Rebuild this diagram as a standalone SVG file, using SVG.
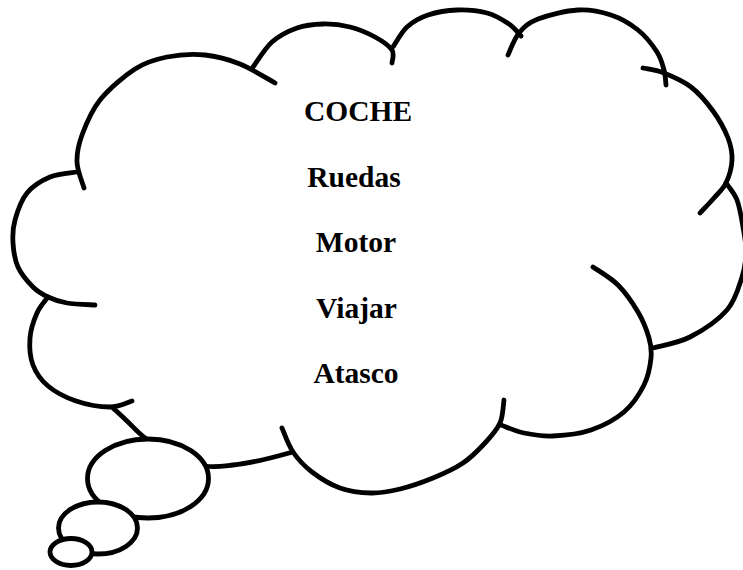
<svg xmlns="http://www.w3.org/2000/svg" width="743" height="570" viewBox="0 0 743 570">
  <style>
    .outline { fill: none; stroke: #000; stroke-width: 4.8; stroke-linecap: round; stroke-linejoin: round; }
    .bubble { fill: #fff; stroke: #000; stroke-width: 4.8; }
    .word { font-family: "Liberation Serif", "Times New Roman", serif; font-weight: bold; font-size: 29.5px; fill: #000; text-anchor: middle; }
  </style>
  <rect width="743" height="570" fill="#fff"/>

  <!-- thought cloud: one arc per lobe, each running slightly inside at its ends -->
  <g id="cloud">
    <path class="outline" d="M84,188 C82.8,183.7 77.3,170.8 77,162 C76.7,153.2 78.2,145.3 82,135 C85.8,124.7 91.2,111 100,100 C108.8,89 123.8,76.2 135,69 C146.2,61.8 155.3,59.3 167,57 C178.7,54.7 192.8,53.8 205,55 C217.2,56.2 228.3,59.3 240,64 C251.7,68.7 269.2,79.8 275,83"/>
    <path class="outline" d="M253,67 C256.2,62.8 264.7,48.5 272,42 C279.3,35.5 288.5,31 297,28 C305.5,25 314.2,24.2 323,24 C331.8,23.8 341.3,24.8 350,27 C358.7,29.2 368,33.2 375,37 C382,40.8 389.2,45.7 392,50 C394.8,54.3 392,60.8 392,63"/>
    <path class="outline" d="M393,47 C395.3,43.7 401.2,32.3 407,27 C412.8,21.7 419.7,17.8 428,15 C436.3,12.2 447.2,10.3 457,10 C466.8,9.7 478.3,10.7 487,13 C495.7,15.3 503.3,20.2 509,24 C514.7,27.8 519,34 521,36"/>
    <path class="outline" d="M508,55 C509.8,51.3 514,39 519,33 C524,27 528.2,22.8 538,19 C547.8,15.2 565.8,10.7 578,10 C590.2,9.3 601,11.7 611,15 C621,18.3 630.3,23.8 638,30 C645.7,36.2 652.7,45.3 657,52 C661.3,58.7 662.5,64.5 664,70 C665.5,75.5 665.7,82.5 666,85"/>
    <path class="outline" d="M643,68 C646.5,68.8 656,69.8 664,73 C672,76.2 682.8,80.7 691,87 C699.2,93.3 706.8,102.5 713,111 C719.2,119.5 724.8,129.8 728,138 C731.2,146.2 732.3,152.5 732,160 C731.7,167.5 729,176.7 726,183 C723,189.3 718.3,193 714,198 C709.7,203 702.3,210.5 700,213"/>
    <path class="outline" d="M726,183 C727.8,185.8 734.2,192.7 737,200 C739.8,207.3 741.5,218.3 743,227 C744.5,235.7 746.2,243.7 746,252 C745.8,260.3 745.2,267.3 742,277 C738.8,286.7 735.7,300 727,310 C718.3,320 702.3,330.7 690,337 C677.7,343.3 659.2,346.2 653,348"/>
    <path class="outline" d="M593,267 C597.2,270 610.5,277.5 618,285 C625.5,292.5 632.8,303.2 638,312 C643.2,320.8 646.8,330.3 649,338 C651.2,345.7 651.8,350.2 651,358 C650.2,365.8 648.5,376 644,385 C639.5,394 632.8,404.5 624,412 C615.2,419.5 602.8,426 591,430 C579.2,434 564.2,435.5 553,436 C541.8,436.5 532.7,434.8 524,433 C515.3,431.2 504.8,426.3 501,425"/>
    <path class="outline" d="M504,400 C503.3,403.8 503.2,415.8 500,423 C496.8,430.2 491.2,436.3 485,443 C478.8,449.7 471.7,457.2 463,463 C454.3,468.8 443.5,473.7 433,478 C422.5,482.3 410.3,486.5 400,489 C389.7,491.5 381,493.2 371,493 C361,492.8 349.8,491.5 340,488 C330.2,484.5 319.8,478 312,472 C304.2,466 298,459.3 293,452 C288,444.7 283.8,432 282,428"/>
    <path class="outline" d="M293,452 C287.8,453.3 272,457.8 262,460 C252,462.2 242.5,464 233,465 C223.5,466 215.2,467.5 205,466 C194.8,464.5 182,460.7 172,456 C162,451.3 152.5,443.8 145,438 C137.5,432.2 132.3,426 127,421 C121.7,416 115.3,410.2 113,408"/>
    <path class="outline" d="M48,297 C46.2,299.7 40,306.2 37,313 C34,319.8 30.7,329.3 30,338 C29.3,346.7 30,357 33,365 C36,373 40.8,380 48,386 C55.2,392 65.7,397.5 76,401 C86.3,404.5 100.7,407 110,407 C119.3,407 128.3,402 132,401"/>
    <path class="outline" d="M77,172 C72.5,172.8 58.3,173.5 50,177 C41.7,180.5 32.8,185.8 27,193 C21.2,200.2 17.3,211.7 15,220 C12.7,228.3 12.5,235.2 13,243 C13.5,250.8 14.7,259.7 18,267 C21.3,274.3 28,282 33,287 C38,292 42.3,294.3 48,297 C53.7,299.7 59.2,301.7 67,303 C74.8,304.3 90.3,304.7 95,305"/>
  </g>

  <!-- trail of shrinking bubbles below the cloud -->
  <g id="trail">
    <ellipse id="bubble-large" class="bubble" cx="148" cy="478.5" rx="60.5" ry="39.5"/>
    <ellipse id="bubble-medium" class="bubble" cx="98" cy="528" rx="39.5" ry="26"/>
    <ellipse id="bubble-small" class="bubble" cx="71" cy="552" rx="21" ry="13.5"/>
  </g>

  <!-- word list inside the cloud -->
  <g id="words">
    <text class="word" x="358" y="121">COCHE</text>
    <text class="word" x="354" y="186.5">Ruedas</text>
    <text class="word" x="356" y="252">Motor</text>
    <text class="word" x="356.5" y="317.5">Viajar</text>
    <text class="word" x="356" y="383">Atasco</text>
  </g>
</svg>
